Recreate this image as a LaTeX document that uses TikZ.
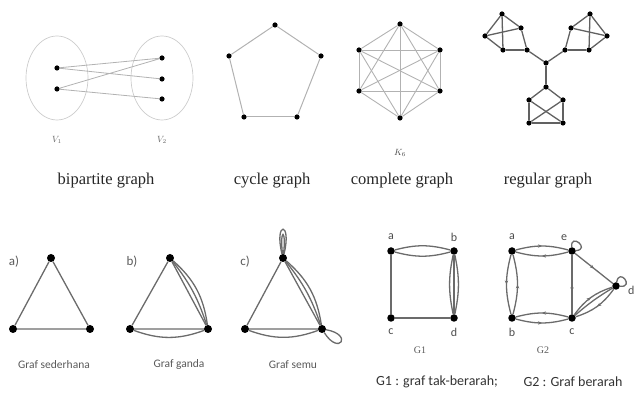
\documentclass[tikz,border=0pt]{standalone}
\usepackage{fontspec}
\setmainfont{Liberation Serif}
\newfontfamily\calib{Carlito}
\usetikzlibrary{shapes.geometric,decorations.markings,arrows.meta}

\begin{document}
\begin{tikzpicture}[x=1pt,y=1pt,
    vdot/.style={circle,fill=black,inner sep=0pt,minimum size=5.2pt},
    bigdot/.style={circle,fill=black,inner sep=0pt,minimum size=8pt},
    tedge/.style={draw=gray!60,line width=1pt},
    redge/.style={draw=black!62,line width=1.3pt},
    bedge/.style={draw=black!58,line width=1.3pt},
    midarr/.style={postaction={decorate},decoration={markings,
        mark=at position 0.5 with {\arrow{Stealth[length=4pt,width=3.4pt]}}}},
    gcap/.style={font=\fontsize{16.5}{18}\selectfont,text=black!85,anchor=base},
    lbl/.style={font=\calib\fontsize{11.5}{13}\selectfont,text=black!65},
    vlbl/.style={font=\calib\fontsize{12}{13}\selectfont,text=black!70}]
\useasboundingbox (0,0) rectangle (635,398);

% Graf bipartit
\node[ellipse,draw=gray!40,line width=0.7pt,minimum width=62,minimum height=84] (setA) at (57,320) {};
\node[ellipse,draw=gray!40,line width=0.7pt,minimum width=62,minimum height=84] (setB) at (162,320) {};
\node[vdot] (l1) at (57,330) {};
\node[vdot] (l2) at (57,309) {};
\node[vdot] (r1) at (162,340) {};
\node[vdot] (r2) at (162,319) {};
\node[vdot] (r3) at (162,299) {};
\draw[tedge,line width=0.8pt] (l1) -- (r1) (l1) -- (r2) (l2) -- (r1) (l2) -- (r3);
\node[text=black!60,font=\small] (vA) at (57,258) {$V_1$};
\node[text=black!60,font=\small] (vB) at (162,258) {$V_2$};
\node[gcap] (capA) at (106,213) {bipartite graph};

% Graf siklus
\foreach \n/\x/\y in {p1/275/373,p2/229/342,p3/321/342,p4/244/281,p5/297/281}
    \node[vdot] (\n) at (\x,\y) {};
\foreach \u/\v in {p1/p3,p3/p5,p5/p4,p4/p2,p2/p1}
    \draw[tedge] (\u) -- (\v);
\node[gcap] (capB) at (272,213) {cycle graph};

% Graf lengkap K6
\foreach \n/\x/\y in {k1/400/374,k2/359/348,k3/440/348,k4/359/307,k5/440/307,k6/400/280}
    \node[vdot] (\n) at (\x,\y) {};
\foreach \i in {1,...,5}{
    \pgfmathtruncatemacro\nxt{\i+1}
    \foreach \j in {\nxt,...,6}
        \draw[tedge,line width=0.9pt] (k\i) -- (k\j);
}
\node[text=black!70,font=\small] (kk) at (400,245) {$K_6$};
\node[gcap] (capC) at (402,213) {complete graph};

% Graf reguler
\foreach \n/\x/\y in {L1/502/384,L2/521/370,L3/485/362,L4/503/348,L5/527/348,
    R1/590/384,R2/571/370,R3/607/362,R4/589/348,R5/565/348,
    m/546/335,B1/546/311,B2/529/298,B3/563/298,B4/529/275,B5/563/275}
    \node[vdot] (\n) at (\x,\y) {};
\foreach \u/\v in {L1/L2,L1/L3,L1/L4,L3/L2,L3/L4,L4/L5,L2/L5,
    R1/R2,R1/R3,R1/R4,R3/R2,R3/R4,R4/R5,R2/R5,
    m/L5,m/R5,m/B1,
    B1/B2,B1/B3,B2/B4,B3/B5,B4/B5,B2/B5,B3/B4}
    \draw[redge] (\u) -- (\v);
\node[gcap] (capD) at (548,213) {regular graph};

% a) graf sederhana
\node[bigdot] (sa) at (51,140) {};
\node[bigdot] (sb) at (13,69) {};
\node[bigdot] (sc) at (90,69) {};
\draw[bedge] (sa) -- (sb) -- (sc) -- (sa);
\node[lbl,font=\calib\fontsize{13}{14}\selectfont] (la) at (14,136) {a)};
\node[lbl] (capE) at (54,33) {Graf sederhana};

% b) graf ganda
\node[bigdot] (ga) at (170,140) {};
\node[bigdot] (gb) at (130,69) {};
\node[bigdot] (gc) at (208,69) {};
\draw[bedge] (ga) -- (gb) -- (gc) -- (ga);
\draw[bedge] (ga) to[bend left=10] (gc);
\draw[bedge] (ga) to[bend left=20] (gc);
\draw[bedge] (gb) to[bend right=20] (gc);
\node[lbl,font=\calib\fontsize{13}{14}\selectfont] (lb) at (132,136) {b)};
\node[lbl] (capF) at (179,33) {Graf ganda};

% c) graf semu
\node[bigdot] (ua) at (283,140) {};
\node[bigdot] (ub) at (245,69) {};
\node[bigdot] (uc) at (322,69) {};
\draw[bedge] (ua) -- (ub) -- (uc) -- (ua);
\draw[bedge] (ua) to[bend left=10] (uc);
\draw[bedge] (ua) to[bend left=20] (uc);
\draw[bedge] (ub) to[bend right=20] (uc);
\draw[bedge] (ua) to[out=104,in=76,min distance=34pt] (ua);
\draw[bedge] (ua) to[out=97,in=83,min distance=26pt] (ua);
\draw[bedge] (uc) to[out=-10,in=-58,min distance=28pt] (uc);
\node[lbl,font=\calib\fontsize{13}{14}\selectfont] (lc) at (245,136) {c)};
\node[lbl] (capG) at (293,33) {Graf semu};

% G1 tak berarah
\node[bigdot,minimum size=7.5pt] (a1) at (391,147) {};
\node[bigdot,minimum size=7.5pt] (b1) at (454,147) {};
\node[bigdot,minimum size=7.5pt] (c1) at (391,80) {};
\node[bigdot,minimum size=7.5pt] (d1) at (454,80) {};
\draw[bedge] (a1) -- (c1) -- (d1);
\draw[bedge] (a1) to[bend left=15] (b1);
\draw[bedge] (a1) to[bend right=15] (b1);
\draw[bedge] (b1) to[bend left=12] (d1);
\draw[bedge] (b1) to[bend right=12] (d1);
\draw[bedge] (b1) -- (d1);
\node[vlbl] (ta1) at (391,161) {a};
\node[vlbl] (tb1) at (454,161) {b};
\node[vlbl] (tc1) at (391,66) {c};
\node[vlbl] (td1) at (454,66) {d};
\node[text=black!65,font=\fontsize{10}{11}\selectfont] (nG1) at (420,48) {G1};

% G2 berarah
\node[bigdot,minimum size=7.5pt] (a2) at (512,147) {};
\node[bigdot,minimum size=7.5pt] (e2) at (572,147) {};
\node[bigdot,minimum size=7.5pt] (b2) at (512,80) {};
\node[bigdot,minimum size=7.5pt] (c2) at (572,80) {};
\node[bigdot,minimum size=7.5pt] (d2) at (616,112) {};
\begin{scope}[bedge]
\draw[midarr] (a2) to[bend left=15] (e2);
\draw[midarr] (e2) to[bend left=15] (a2);
\draw[midarr] (a2) to[bend right=15] (b2);
\draw[midarr] (b2) to[bend right=15] (a2);
\draw[midarr] (b2) to[bend right=15] (c2);
\draw[midarr] (c2) to[bend right=15] (b2);
\draw[midarr] (c2) -- (e2);
\draw[midarr] (e2) -- (d2);
\draw[midarr] (c2) to[bend left=18] (d2);
\draw[midarr] (d2) to[bend left=18] (c2);
\draw (c2) to[bend left=5] (d2);
\draw (e2) to[out=95,in=5,min distance=15pt] (e2);
\draw (d2) to[out=80,in=-5,min distance=15pt] (d2);
\end{scope}
\node[vlbl] (ta2) at (512,161) {a};
\node[vlbl] (te2) at (564,160) {e};
\node[vlbl] (tb2) at (512,66) {b};
\node[vlbl] (tc2) at (572,66) {c};
\node[vlbl,anchor=west,inner sep=1pt] (td2) at (627,108) {d};
\node[text=black!65,font=\fontsize{10}{11}\selectfont] (nG2) at (543,48) {G2};

% keterangan
\node[text=black!80,font=\calib\fontsize{14}{16}\selectfont] (capH) at (437,16) {G1 : graf tak-berarah;};
\node[text=black!80,font=\calib\fontsize{14}{16}\selectfont] (capI) at (573,16) {G2 : Graf berarah};
\end{tikzpicture}
\end{document}
